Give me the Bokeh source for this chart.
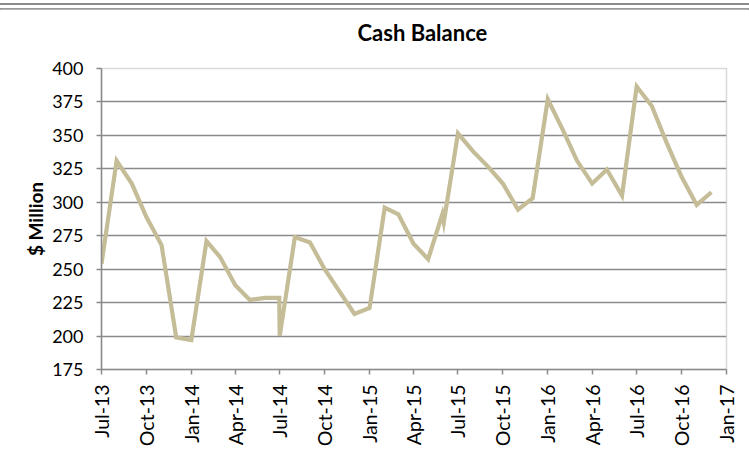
import numpy as np
from bokeh.plotting import figure
from bokeh.layouts import column
from bokeh.models import FixedTicker, DatetimeTickFormatter, ColumnDataSource, Range1d, Div
from bokeh.embed import file_html
from bokeh.resources import INLINE

# ---- data ----
dates = [
    "2013-07-01", "2013-08-01", "2013-09-01", "2013-10-01", "2013-11-01", "2013-12-01",
    "2014-01-01", "2014-02-01", "2014-03-01", "2014-04-01", "2014-05-01", "2014-06-01",
    "2014-06-30", "2014-07-01", "2014-08-01", "2014-09-01", "2014-10-01", "2014-11-01",
    "2014-12-01", "2015-01-01", "2015-02-01", "2015-03-01", "2015-04-01", "2015-05-01",
    "2015-05-30", "2015-06-02", "2015-07-01", "2015-08-01", "2015-09-01", "2015-10-01",
    "2015-11-01", "2015-12-01", "2016-01-01", "2016-02-01", "2016-03-01", "2016-04-01",
    "2016-05-01", "2016-06-01", "2016-07-01", "2016-08-01", "2016-09-01", "2016-10-01",
    "2016-11-01", "2016-12-01",
]
cash_balance = [
    254, 331, 314, 289, 268, 199,
    197, 271, 259, 238, 227, 228.5,
    228.5, 200, 274, 270, 250, 233,
    216.5, 221, 296, 291, 269, 257.5,
    291, 285, 351.5, 338, 326.5, 314,
    294.5, 303, 377, 354, 331, 314,
    324.5, 305, 386.5, 372, 344, 319,
    298, 307.5,
]
y_ticks = [175, 200, 225, 250, 275, 300, 325, 350, 375, 400]
x_tick_dates = [
    "2013-07-01", "2013-10-01", "2014-01-01", "2014-04-01", "2014-07-01",
    "2014-10-01", "2015-01-01", "2015-04-01", "2015-07-01", "2015-10-01",
    "2016-01-01", "2016-04-01", "2016-07-01", "2016-10-01", "2017-01-01",
]
title_text = "Cash Balance"

x_ms = np.array(dates, dtype="datetime64[ms]").astype("int64")
tick_ms = np.array(x_tick_dates, dtype="datetime64[ms]").astype("int64")

src = ColumnDataSource(data=dict(x=x_ms, y=cash_balance))

FONT = "Lato"
AXIS_COL = "#8a8a8a"
FRAME_W, FRAME_H = 625, 301
LEFT, RIGHT = 101, 22

# page rules at the very top (full width)
strip = Div(
    width=749, height=9,
    text=(
        '<div style="position:relative;width:749px;height:9px;margin:0;padding:0;">'
        '<div style="position:absolute;left:0;top:0;width:749px;height:1.5px;background:#8c8c8c;"></div>'
        '<div style="position:absolute;left:0;top:5px;width:749px;height:2px;background:#9a9a9a;"></div>'
        '</div>'
    ),
)
try:
    strip.margin = (0, 0, 0, 0)
except Exception:
    pass

# title holder: an empty, invisible plot whose title sits where the chart title is
head = figure(
    frame_width=FRAME_W, frame_height=1,
    x_range=Range1d(0, 1), y_range=Range1d(0, 1),
    x_axis_location=None, y_axis_location=None,
    output_backend="svg", toolbar_location=None,
    min_border_left=LEFT, min_border_right=RIGHT, min_border_top=43, min_border_bottom=0,
)
head.grid.visible = False
head.outline_line_color = None
head.title.text = title_text
head.title.text_font = FONT
head.title.text_font_size = "22px"
head.title.text_font_style = "bold"
head.title.text_color = "black"
head.title.align = "left"
head.title.offset = 256
head.title.standoff = 14

p = figure(
    frame_width=FRAME_W, frame_height=FRAME_H,
    x_axis_type="datetime",
    x_range=Range1d(int(tick_ms[0]), int(tick_ms[-1])),
    y_range=Range1d(y_ticks[0], y_ticks[-1]),
    output_backend="svg", toolbar_location=None,
    min_border_left=LEFT, min_border_right=RIGHT, min_border_top=15, min_border_bottom=100,
)

p.line("x", "y", source=src, line_color="#C4BD97", line_width=4.2, line_join="miter")

# axes
for ax in (p.xaxis[0], p.yaxis[0]):
    ax.axis_line_color = AXIS_COL
    ax.axis_line_width = 1.5
    ax.major_tick_line_color = AXIS_COL
    ax.major_tick_line_width = 1.5
    ax.major_tick_out = 5
    ax.major_tick_in = 0
    ax.minor_tick_line_color = None
    ax.major_label_text_color = "black"
    ax.major_label_text_font = FONT

p.yaxis.major_label_text_font_size = "18px"
p.xaxis.major_label_text_font_size = "19.5px"

p.yaxis.ticker = FixedTicker(ticks=y_ticks)
p.yaxis.major_label_standoff = 13
p.yaxis.axis_label = "$ Million"
p.yaxis.axis_label_text_font = FONT
p.yaxis.axis_label_text_font_size = "19px"
p.yaxis.axis_label_text_font_style = "bold"
p.yaxis.axis_label_text_color = "black"
p.yaxis.axis_label_standoff = 2

p.xaxis.ticker = FixedTicker(ticks=list(tick_ms))
fmt = "%b-%y"
p.xaxis.formatter = DatetimeTickFormatter(
    milliseconds=fmt, seconds=fmt, minsec=fmt, minutes=fmt, hourmin=fmt,
    hours=fmt, days=fmt, months=fmt, years=fmt,
)
p.xaxis.major_label_orientation = np.pi / 2
p.xaxis.major_label_standoff = 10

# grid
p.xgrid.grid_line_color = None
p.ygrid.ticker = FixedTicker(ticks=y_ticks[1:-1])
p.ygrid.grid_line_color = AXIS_COL
p.ygrid.grid_line_width = 1.5

p.outline_line_color = "#d9d9d9"
p.outline_line_width = 1.5
p.background_fill_color = "white"
p.border_fill_color = "white"

layout = column(strip, head, p, spacing=0)
open("out.html", "w").write(file_html(layout, INLINE))
